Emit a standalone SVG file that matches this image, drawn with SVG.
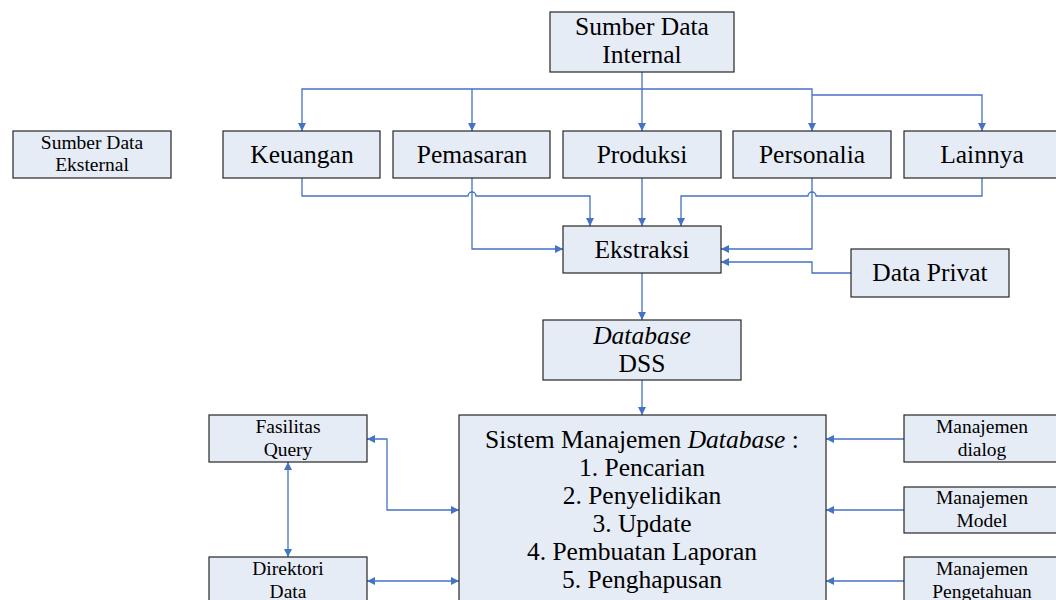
<svg xmlns="http://www.w3.org/2000/svg" width="1056" height="600" viewBox="0 0 1056 600">
<style>
.box{fill:#e6ecf6;stroke:#262626;stroke-width:1.2}
.t{font-family:'Liberation Serif',serif;font-size:25.5px;fill:#000;text-anchor:middle}
.s{font-family:'Liberation Serif',serif;font-size:19.5px;fill:#000;text-anchor:middle}
.c{fill:none;stroke:#4472c4;stroke-width:1.3}
</style>
<defs>
<marker id="ah" viewBox="0 0 10 10" refX="10" refY="5" markerWidth="9" markerHeight="8" markerUnits="userSpaceOnUse" orient="auto-start-reverse">
<path d="M0,0 L10,5 L0,10 z" fill="#4472c4"/>
</marker>
</defs>
<g id="connectors">
<path class="c" d="M642,72 V131" marker-end="url(#ah)"/>
<path class="c" d="M302,131 V89 H812 V131" marker-start="url(#ah)" marker-end="url(#ah)"/>
<path class="c" d="M472,89 V131" marker-end="url(#ah)"/>
<path class="c" d="M812,95 H982 V131" marker-end="url(#ah)"/>
<path class="c" d="M302,178 V196 H468 A4,4 0 0 1 476,196 H590 V226" marker-end="url(#ah)"/>
<path class="c" d="M472,178 V249 H563" marker-end="url(#ah)"/>
<path class="c" d="M642,178 V226" marker-end="url(#ah)"/>
<path class="c" d="M982,178 V196 H816 A4,4 0 0 0 808,196 H681 V226" marker-end="url(#ah)"/>
<path class="c" d="M812,178 V249 H721" marker-end="url(#ah)"/>
<path class="c" d="M851,273 H812 V262 H721" marker-end="url(#ah)"/>
<path class="c" d="M642,273 V320" marker-end="url(#ah)"/>
<path class="c" d="M642,380 V415" marker-end="url(#ah)"/>
<path class="c" d="M288,462 V557" marker-start="url(#ah)" marker-end="url(#ah)"/>
<path class="c" d="M367,439 H387 V510 H459" marker-start="url(#ah)" marker-end="url(#ah)"/>
<path class="c" d="M367,581 H459" marker-start="url(#ah)" marker-end="url(#ah)"/>
<path class="c" d="M904,439 H826" marker-end="url(#ah)"/>
<path class="c" d="M904,510 H826" marker-end="url(#ah)"/>
<path class="c" d="M904,581 H826" marker-end="url(#ah)"/>
</g>
<g id="sumber-internal"><rect class="box" x="550" y="12" width="184" height="60"/><text class="t" x="642" y="35">Sumber Data</text><text class="t" x="642" y="63">Internal</text></g>
<g id="sumber-eksternal"><rect class="box" x="13" y="131" width="158" height="47"/><text class="s" x="92" y="149">Sumber Data</text><text class="s" x="92" y="171">Eksternal</text></g>
<g id="keuangan"><rect class="box" x="223" y="131" width="157" height="47"/><text class="t" x="302" y="163">Keuangan</text></g>
<g id="pemasaran"><rect class="box" x="393" y="131" width="157" height="47"/><text class="t" x="472" y="163">Pemasaran</text></g>
<g id="produksi"><rect class="box" x="563" y="131" width="158" height="47"/><text class="t" x="642" y="163">Produksi</text></g>
<g id="personalia"><rect class="box" x="733" y="131" width="158" height="47"/><text class="t" x="812" y="163">Personalia</text></g>
<g id="lainnya"><rect class="box" x="904" y="131" width="157" height="47"/><text class="t" x="982" y="163">Lainnya</text></g>
<g id="ekstraksi"><rect class="box" x="563" y="226" width="158" height="47"/><text class="t" x="642" y="258">Ekstraksi</text></g>
<g id="data-privat"><rect class="box" x="851" y="249" width="158" height="48"/><text class="t" x="930" y="281">Data Privat</text></g>
<g id="database-dss"><rect class="box" x="543" y="320" width="198" height="60"/><text class="t" x="642" y="344" font-style="italic">Database</text><text class="t" x="642" y="372">DSS</text></g>
<g id="sistem-manajemen-database"><rect class="box" x="459" y="415" width="367" height="200"/>
<text class="t" x="642" y="448">Sistem Manajemen <tspan font-style="italic">Database</tspan> :</text>
<text class="t" x="642" y="476">1. Pencarian</text>
<text class="t" x="642" y="504">2. Penyelidikan</text>
<text class="t" x="642" y="532">3. Update</text>
<text class="t" x="642" y="560">4. Pembuatan Laporan</text>
<text class="t" x="642" y="588">5. Penghapusan</text></g>
<g id="fasilitas-query"><rect class="box" x="209" y="415" width="158" height="47"/><text class="s" x="288" y="433">Fasilitas</text><text class="s" x="288" y="456">Query</text></g>
<g id="direktori-data"><rect class="box" x="209" y="557" width="158" height="47"/><text class="s" x="288" y="575">Direktori</text><text class="s" x="288" y="598">Data</text></g>
<g id="manajemen-dialog"><rect class="box" x="904" y="415" width="158" height="47"/><text class="s" x="982" y="433">Manajemen</text><text class="s" x="982" y="456">dialog</text></g>
<g id="manajemen-model"><rect class="box" x="904" y="487" width="158" height="46"/><text class="s" x="982" y="504">Manajemen</text><text class="s" x="982" y="527">Model</text></g>
<g id="manajemen-pengetahuan"><rect class="box" x="904" y="557" width="158" height="47"/><text class="s" x="982" y="575">Manajemen</text><text class="s" x="982" y="598">Pengetahuan</text></g>
</svg>
